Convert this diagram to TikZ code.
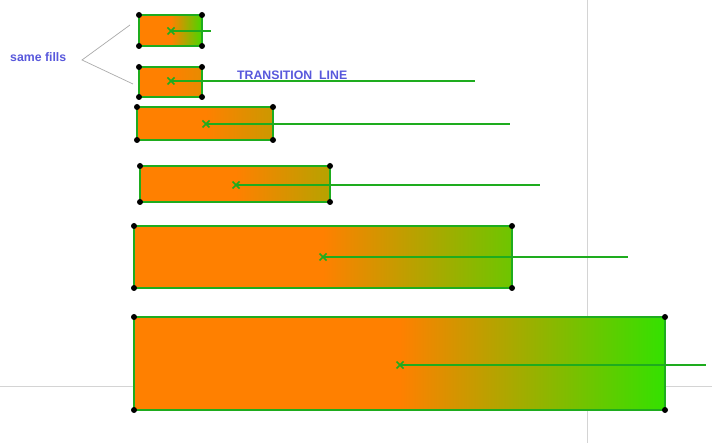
\documentclass[tikz,border=0pt]{standalone}
\usepackage{fontspec}
\setmainfont{Liberation Sans}
\begin{document}
\begin{tikzpicture}[x=1pt,y=-1pt,
  guide/.style={draw=guidegray,line width=0.8pt},
  pointer/.style={draw=pointgray,line width=0.7pt},
  rim/.style={draw=rimgreen,line width=2pt},
  tline/.style={draw=rimgreen,line width=2pt},
  corner/.style={fill=black},
  xmark/.style={draw=rimgreen,line width=1.5pt},
  lbl/.style={text=lblblue,font=\bfseries\fontsize{12.3}{14}\selectfont,inner sep=0pt}]
\definecolor{guidegray}{RGB}{212,212,212}
\definecolor{pointgray}{RGB}{170,170,170}
\definecolor{rimgreen}{RGB}{30,172,30}
\definecolor{lblblue}{RGB}{88,88,220}
\definecolor{org}{RGB}{255,128,0}
\definecolor{grn}{RGB}{20,240,0}
\useasboundingbox[fill=white] (0,0) rectangle (712,443);
% guide lines
\draw[guide] (587,0) -- (587,443);
\draw[guide] (0,386) -- (712,386);
% rectangles: x1,y1,x2,y2,xm,ym,xe
\foreach \n/\xa/\ya/\xb/\yb/\xm/\ym/\xe in {
  1/139/15/202/46/171/31/211,
  2/139/67/202/97/171/81/475,
  3/137/107/273/140/206/124/510,
  4/140/166/330/202/236/185/540,
  5/134/226/512/288/323/257/628,
  6/134/317/665/410/400/365/706}{
  \begin{scope}
    \clip (\xa,\ya) rectangle (\xb,\yb);
    \fill[org] (\xa,\ya) rectangle (\xb,\yb);
    \shade[left color=org,right color=grn] (\xm,\ya) rectangle (\xe,\yb);
  \end{scope}
  \draw[rim] (\xa,\ya) rectangle (\xb,\yb);
  \coordinate (m\n) at (\xm,\ym);
  \coordinate (e\n) at (\xe,\ym);
  \draw[tline] (m\n) -- (e\n);
  \draw[xmark] ([shift={(-3.5,-3.5)}]m\n) -- ([shift={(3.5,3.5)}]m\n)
               ([shift={(-3.5,3.5)}]m\n) -- ([shift={(3.5,-3.5)}]m\n);
  \foreach \cx/\cy in {\xa/\ya,\xb/\ya,\xa/\yb,\xb/\yb}
    \fill[corner] (\cx,\cy) circle (3);
}
% labels
\node[lbl,anchor=west] (same) at (10,57) {same fills};
\coordinate (apex) at (82,60);
\coordinate (p1) at (130,25);
\coordinate (p2) at (133,84);
\draw[pointer] (p1) -- (apex) -- (p2);
\node[lbl,anchor=west] (trans) at (237,75) {TRANSITION\ \ LINE};
\end{tikzpicture}
\end{document}
